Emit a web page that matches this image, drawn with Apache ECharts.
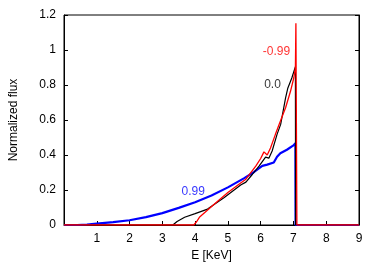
<!DOCTYPE html>
<html><head><meta charset="utf-8">
<script src="https://cdn.jsdelivr.net/npm/echarts@6/dist/echarts.min.js"></script>
<style>html,body{margin:0;padding:0;background:#fff}#c{width:382px;height:267px}</style>
</head><body><div id="c"></div>
<script>
// Blue: spin 0.99
const eBlue = [0, 0.4, 0.7, 1.0, 1.5, 2.0, 2.5, 3.0, 3.5, 4.0, 4.5, 5.0, 5.5, 5.8, 6.05, 6.2, 6.4, 6.5, 6.6, 6.8, 7.0, 7.06, 7.065, 9];
const fBlue = [0, 0, 0.003, 0.008, 0.016, 0.027, 0.045, 0.068, 0.098, 0.13, 0.168, 0.215, 0.268, 0.303, 0.338, 0.345, 0.357, 0.39, 0.41, 0.43, 0.455, 0.468, 0, 0];
// Black: spin 0.0
const eBlack = [0, 3.32, 3.45, 3.68, 4.0, 4.38, 4.89, 5.39, 5.55, 5.75, 5.95, 6.15, 6.25, 6.35, 6.5, 6.61, 6.76, 6.83, 6.95, 7.06, 7.065, 9];
const fBlack = [0, 0, 0.02, 0.044, 0.065, 0.091, 0.157, 0.228, 0.245, 0.29, 0.337, 0.388, 0.382, 0.423, 0.518, 0.575, 0.726, 0.783, 0.84, 0.905, 0, 0];
// Red: spin -0.99
const eRed = [0, 3.96, 4.05, 4.13, 4.59, 5.0, 5.39, 5.55, 5.85, 6.0, 6.1, 6.2, 6.3, 6.45, 6.6, 6.76, 6.91, 7.01, 7.06, 7.075, 7.095, 7.105, 9];
const fRed = [0, 0, 0.02, 0.044, 0.12, 0.186, 0.24, 0.262, 0.337, 0.38, 0.418, 0.40, 0.44, 0.518, 0.593, 0.67, 0.764, 0.84, 0.897, 1.153, 1.153, 0, 0];

const xTicks = [0, 1, 2, 3, 4, 5, 6, 7, 8, 9];
const yTicks = [0, 0.2, 0.4, 0.6, 0.8, 1, 1.2];
const labelText = ['-0.99', '0.0', '0.99'];
const labelE = [6.48, 6.36, 3.94];
const labelF = [0.99, 0.80, 0.193];
const labelColor = ['#ff0000', '#000000', '#0000ff'];

const pairs = (xs, ys) => xs.map((x, i) => [x, ys[i]]);
const font = 'Liberation Sans, Arial, sans-serif';

const chart = echarts.init(document.getElementById('c'));
chart.setOption({
  animation: false,
  grid: {left: 62, right: 23, top: 15, bottom: 41, show: true, borderColor: '#000', borderWidth: 1},
  xAxis: {
    type: 'value', min: xTicks[0], max: xTicks[xTicks.length - 1], interval: 1,
    name: 'E [KeV]', nameLocation: 'middle', nameGap: 25,
    nameTextStyle: {color: '#000', fontSize: 12, fontFamily: font},
    axisLine: {show: true, lineStyle: {color: '#000'}},
    axisTick: {show: true, inside: true, length: 4, lineStyle: {color: '#000'}},
    axisLabel: {color: '#000', fontSize: 12, fontFamily: font, margin: 8,
      formatter: v => (v === 0 ? '' : String(v))},
    splitLine: {show: false}
  },
  yAxis: [{
    type: 'value', min: yTicks[0], max: yTicks[yTicks.length - 1], interval: 0.2,
    name: 'Normalized flux', nameLocation: 'middle', nameGap: 44,
    nameTextStyle: {color: '#000', fontSize: 12, fontFamily: font},
    axisLine: {show: true, lineStyle: {color: '#000'}},
    axisTick: {show: true, inside: true, length: 4, lineStyle: {color: '#000'}},
    axisLabel: {color: '#000', fontSize: 12, fontFamily: font, margin: 8,
      formatter: v => String(Math.round(v * 10) / 10)},
    splitLine: {show: false}
  }, {
    type: 'value', min: yTicks[0], max: yTicks[yTicks.length - 1], interval: 0.2, position: 'right',
    axisLine: {show: true, lineStyle: {color: '#000'}},
    axisTick: {show: true, inside: true, length: 4, lineStyle: {color: '#000'}},
    axisLabel: {show: false}, splitLine: {show: false}
  }],
  series: [
    {type: 'line', data: pairs(eBlue, fBlue), showSymbol: false, symbol: 'none',
      lineStyle: {color: '#0000ff', width: 2.2}, z: 2},
    {type: 'line', data: pairs(eBlack, fBlack), showSymbol: false, symbol: 'none',
      lineStyle: {color: '#000000', width: 1.2}, z: 3},
    {type: 'line', data: pairs(eRed, fRed), showSymbol: false, symbol: 'none',
      lineStyle: {color: '#ff0000', width: 1.3}, z: 4},
    {type: 'scatter', symbolSize: 1, z: 5, silent: true,
      itemStyle: {color: 'rgba(0,0,0,0)'},
      data: labelText.map((t, i) => ({
        value: [labelE[i], labelF[i]],
        label: {show: true, position: 'inside', formatter: t, color: labelColor[i],
          fontSize: 12, fontFamily: font}
      }))}
  ]
});
</script></body></html>
